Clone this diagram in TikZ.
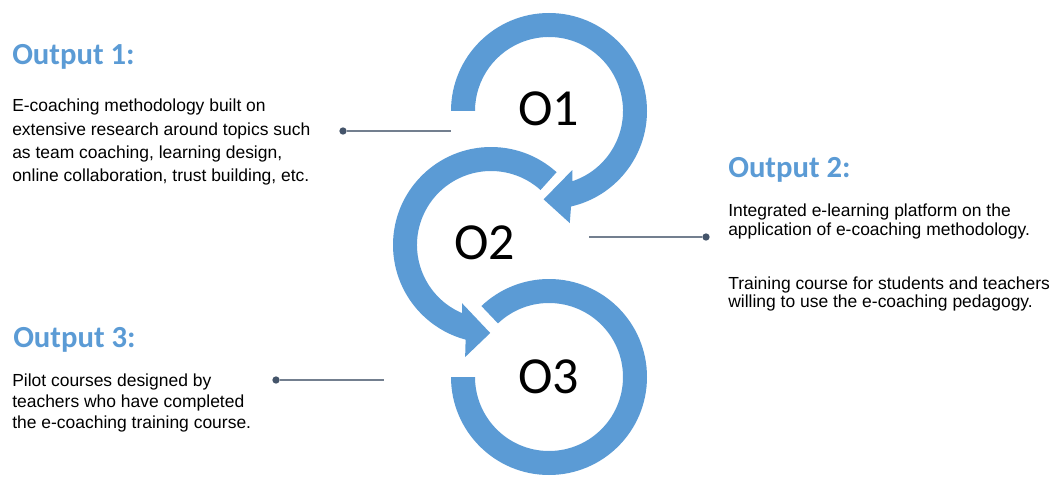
\documentclass[tikz,border=0pt]{standalone}
\usepackage{fontspec}
\setmainfont{Liberation Sans}
\newfontfamily\calib{Carlito}
\definecolor{accent}{HTML}{5B9BD5}
\definecolor{conn}{HTML}{44546A}
\begin{document}
\begin{tikzpicture}[x=0.75pt,y=0.75pt,
  band/.style={fill=accent},
  title/.style={anchor=base west, inner sep=0, text=accent, font=\calib\bfseries\fontsize{23}{28}\selectfont},
  body/.style={anchor=base west, inner sep=0, font=\fontsize{13.1}{#1}\selectfont},
  olabel/.style={anchor=base, inner sep=0, font=\calib\fontsize{39}{47}\selectfont},
  dot/.style={circle, fill=conn, inner sep=0, minimum size=5.5pt},
  link/.style={draw=conn!75, line width=1pt}]
\useasboundingbox (0,0) rectangle (1054,476);
\coordinate (c1) at (549,365);
\coordinate (c2) at (491,231);
\coordinate (c3) at (549,99);
% ring 3
\begin{scope}[shift={(c3)}]
\fill[band] (180:98) arc[start angle=180,end angle=493.6,radius=98] -- (493.6:74) arc[start angle=493.6,end angle=180,radius=74] -- cycle;
\end{scope}
% ring 2 with arrow
\begin{scope}[shift={(c2)}]
\fill[band] (48:98) arc[start angle=48,end angle=255,radius=98] -- (257:115) -- (269.5:88) -- (243.5:65) -- (247:74) arc[start angle=247,end angle=48,radius=74] -- cycle;
\end{scope}
% ring 1 with arrow
\begin{scope}[shift={(c1)}]
\fill[band] (180:98) arc[start angle=180,end angle=-77,radius=98] -- (-79.5:114) -- (-93.5:88.5) -- (-68.5:63.5) -- (-71.5:74) arc[start angle=-71.5,end angle=180,radius=74] -- cycle;
\end{scope}
% labels in rings
\node[olabel] (o1) at (548.5,350) {O1};
\node[olabel] (o2) at (484.5,217) {O2};
\node[olabel] (o3) at (548.5,83) {O3};
% texts
\node[title] (t1) at (12,411) {Output 1:};
\node[body=17.55] (b1) at (12,364.3) {\begin{tabular}[t]{@{}l@{}}E-coaching methodology built on\\extensive research around topics such\\as team coaching, learning design,\\online collaboration, trust building, etc.\end{tabular}};
\node[title] (t2) at (728,299) {Output 2:};
\node[body=13.9] (b2) at (728,259.3) {\begin{tabular}[t]{@{}l@{}}Integrated e-learning platform on the\\application of e-coaching methodology.\end{tabular}};
\node[body=14.2] (b2b) at (728,187) {\begin{tabular}[t]{@{}l@{}}Training course for students and teachers\\willing to use the e-coaching pedagogy.\end{tabular}};
\node[title] (t3) at (13,129) {Output 3:};
\node[body=15.5] (b3) at (12,89.3) {\begin{tabular}[t]{@{}l@{}}Pilot courses designed by\\teachers who have completed\\the e-coaching training course.\end{tabular}};
% connectors
\node[dot] (d1) at (343,345) {};
\coordinate (e1) at (451,345);
\node[dot] (d2) at (706,239) {};
\coordinate (e2) at (589,239);
\node[dot] (d3) at (276,96) {};
\coordinate (e3) at (384,96);
\draw[link] (d1) -- (e1);
\draw[link] (e2) -- (d2);
\draw[link] (d3) -- (e3);
\end{tikzpicture}
\end{document}
